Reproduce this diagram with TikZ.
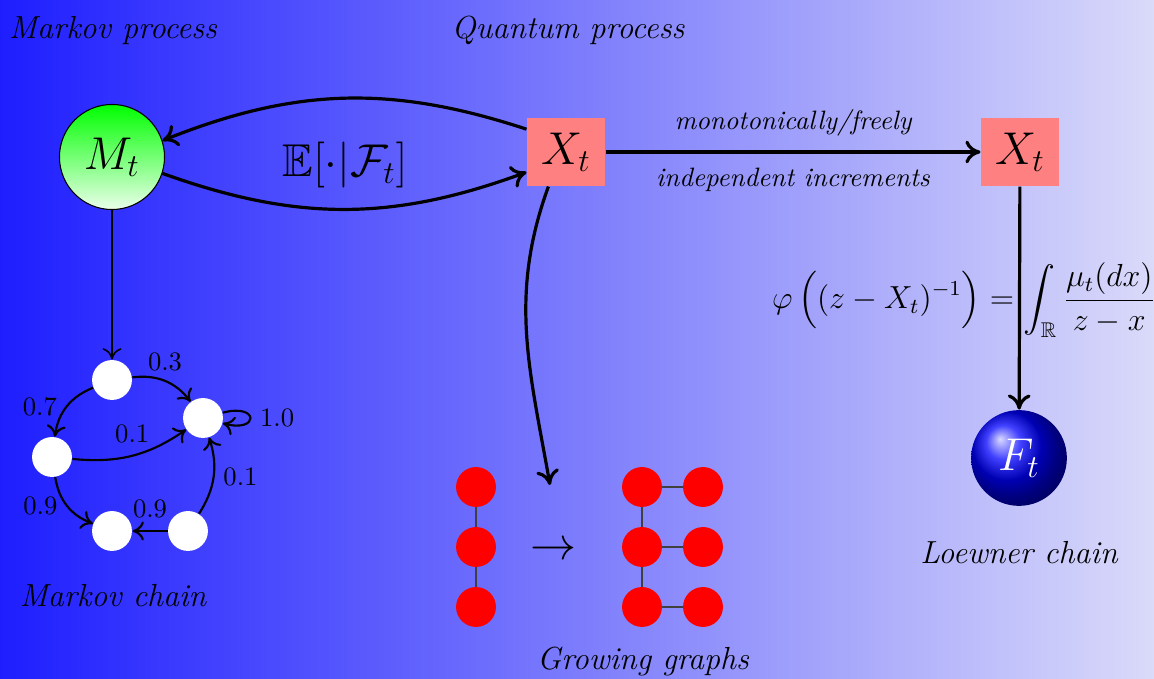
\documentclass[tikz,border=0pt]{standalone}
\usepackage{amsmath,amssymb}
\usepackage{xcolor}
\usepackage{tikz}
\usetikzlibrary{arrows.meta}

\definecolor{bgleft}{RGB}{30,30,255}
\definecolor{bgright}{RGB}{218,218,250}

\begin{document}
\begin{tikzpicture}[x=0.376pt,y=0.376pt,
  lbl/.style={font=\large\itshape},
  proc/.style={fill=red!50,minimum width=29.3pt,minimum height=25.6pt,inner sep=0pt,font=\LARGE},
  state/.style={circle,fill=white,minimum size=15pt,inner sep=0pt},
  vert/.style={circle,fill=red,minimum size=15pt,inner sep=0pt},
  arr/.style={-{To[length=2mm,width=3mm]},very thick},
  carr/.style={-{To[length=1.5mm,width=2.5mm]},thick},
  gedge/.style={draw=black!75,semithick}]
\useasboundingbox (0,0) rectangle (1154,-679);
\shade[left color=bgleft,right color=bgright] (0,0) rectangle (1154,-679);
\node[lbl] (mp) at (113,-31) {Markov process};
\node[lbl] (qp) at (568,-30) {Quantum process};
\node[circle,draw,top color=green,bottom color=green!8,minimum size=39.5pt,font=\LARGE] (M) at (112,-157) {$M_t$};
\node[proc] (X) at (566,-152) {$X_t$};
\node[proc] (Y) at (1020,-152) {$X_t$};
\node[circle,ball color=blue,minimum size=36pt,font=\LARGE,text=white] (F) at (1019,-458) {$F_t$};
\node[font=\LARGE] (E) at (345,-165) {$\mathbb{E}[\cdot|\mathcal{F}_t]$};
\node[font=\large] (phi) at (964,-300) {$\displaystyle\varphi\,\Big((z-X_t)^{-1}\Big)=\int_{\mathbb{R}}\frac{\mu_t(dx)}{z-x}$};
\node[lbl] (lc) at (1019,-553) {Loewner chain};
\node[lbl] (mc) at (113,-596) {Markov chain};
\node[lbl] (gg) at (643,-662) {Growing graphs};
\draw[arr] (X.150) to[bend right=20] (M.18);
\draw[arr] (M.-18) to[bend right=20] (X.207);
\draw[arr] (X) -- node[above=2pt,font=\itshape]{monotonically/freely}
  node[below=2pt,font=\itshape]{independent increments} (Y);
\draw[arr] (Y) -- (F);
\node[state] (A) at (112,-380) {};
\node[state] (B) at (203,-418) {};
\node[state] (C) at (52,-457) {};
\node[state] (D) at (112,-531) {};
\node[state] (S) at (188,-531) {};
\draw[-{To[length=1.5mm,width=2.5mm]},semithick] (M) -- (A);
\draw[carr] (A) to[bend left=30] node[above]{0.3} (B);
\draw[carr] (A) to[bend right=30] node[left]{0.7} (C);
\draw[carr] (C) to[bend right=20] node[above,yshift=1pt]{0.1} (B);
\draw[carr] (C) to[bend right=30] node[left]{0.9} (D);
\draw[carr] (S) -- node[above=1pt]{0.9} (D);
\draw[carr] (S) to[bend right=25] node[right]{0.1} (B);
\draw[carr] (B) to[loop right] node[right]{1.0} (B);
\coordinate (g) at (550,-485);
\draw[arr] (X.243) to[out=-110,in=100] (g);
\node[vert] (a1) at (476,-487) {};
\node[vert] (a2) at (476,-547) {};
\node[vert] (a3) at (476,-607) {};
\node[font=\LARGE] (to) at (553,-551) {$\rightarrow$};
\node[vert] (b1) at (642,-487) {};
\node[vert] (b2) at (642,-547) {};
\node[vert] (b3) at (642,-607) {};
\node[vert] (c1) at (703,-487) {};
\node[vert] (c2) at (703,-547) {};
\node[vert] (c3) at (703,-607) {};
\draw[gedge] (a1) -- (a2) -- (a3);
\draw[gedge] (b1) -- (b2) -- (b3);
\draw[gedge] (b1) -- (c1);
\draw[gedge] (b2) -- (c2);
\draw[gedge] (b3) -- (c3);
\end{tikzpicture}
\end{document}
